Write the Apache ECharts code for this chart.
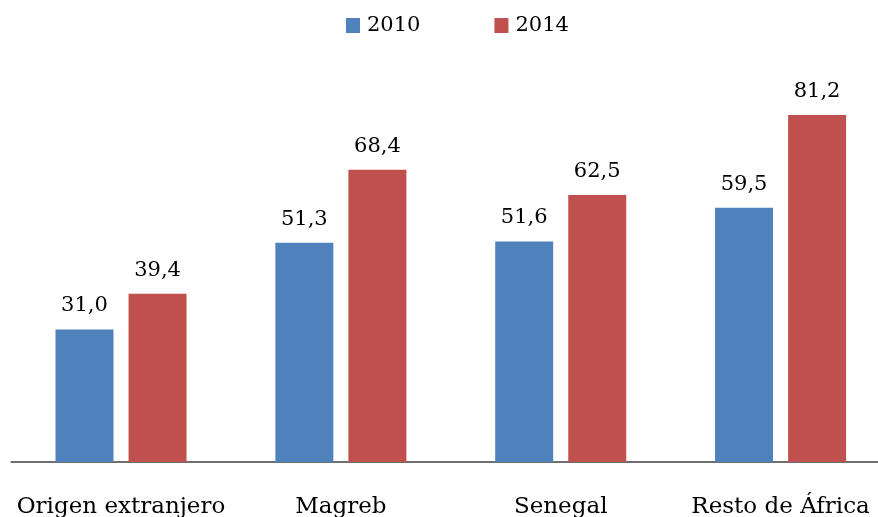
<!DOCTYPE html>
<html>
<head>
<meta charset="utf-8">
<script src="https://cdn.jsdelivr.net/npm/echarts@6/dist/echarts.min.js"></script>
<style>html,body{margin:0;padding:0;background:#fff;overflow:hidden;width:878px;height:517px}#c{width:891px;height:517px}</style>
</head>
<body>
<div id="c"></div>
<script>
const categories = ['Origen extranjero', 'Magreb', 'Senegal', 'Resto de África'];
const values2010 = [31.0, 51.3, 51.6, 59.5];
const values2014 = [39.4, 68.4, 62.5, 81.2];
const seriesNames = ['2010', '2014'];

const FONT = 'DejaVu Serif';
const chart = echarts.init(document.getElementById('c'), null, {renderer: 'canvas'});
const fmt = p => p.value.toFixed(1).replace('.', ',');
const label = {show: true, position: 'top', distance: 13, formatter: fmt, fontFamily: FONT, fontSize: 21, color: '#000'};
chart.setOption({
  animation: false,
  legend: {
    data: seriesNames, top: 10, left: 341, itemWidth: 14, itemHeight: 15, itemGap: 74,
    icon: 'rect', textStyle: {fontFamily: FONT, fontSize: 21, color: '#000', padding: [0, 0, 0, 2]}
  },
  grid: {left: 11.1, right: 0.5, top: 34.7, bottom: 517 - 462, containLabel: false, outerBoundsMode: 'none'},
  xAxis: {
    type: 'category', data: categories,
    axisLine: {lineStyle: {color: '#404040', width: 1.5}},
    axisTick: {show: false},
    axisLabel: {fontFamily: FONT, fontSize: 23, color: '#000', margin: 34, interval: 0}
  },
  yAxis: {type: 'value', min: 0, max: 100, show: false, splitLine: {show: false}},
  series: [
    {name: seriesNames[0], type: 'bar', data: values2010, barGap: '26%', barCategoryGap: '40.4%',
     itemStyle: {color: '#4f81bd'}, label: label},
    {name: seriesNames[1], type: 'bar', data: values2014,
     itemStyle: {color: '#c0504d'}, label: label}
  ]
});
</script>
</body>
</html>
